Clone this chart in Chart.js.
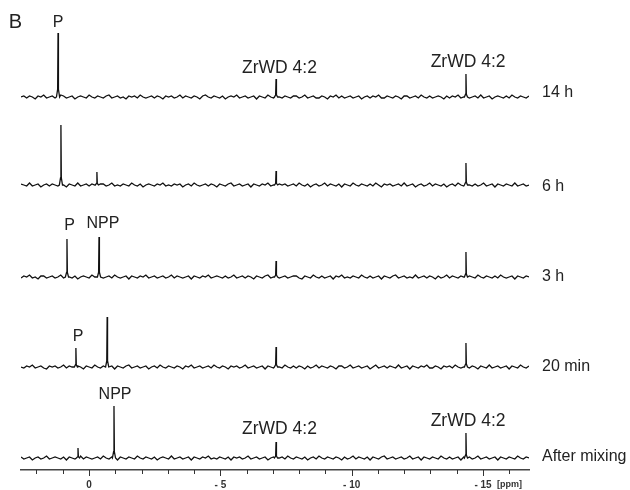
<!DOCTYPE html>
<html>
<head>
<meta charset="utf-8">
<script src="https://cdn.jsdelivr.net/npm/chart.js@4.4.0/dist/chart.umd.min.js"></script>
<style>
  html, body { margin: 0; padding: 0; background: #ffffff; }
  #wrap { width: 630px; height: 490px; }
</style>
</head>
<body>
<div id="wrap"><canvas id="c" width="630" height="490"></canvas></div>
<script>
// ---- Data (chemical shift in ppm, intensities in arbitrary units) ----
const traceNames = ['14 h', '6 h', '3 h', '20 min', 'After mixing'];
const traceOffsets = [373, 285, 193, 103, 12];
const ppmStart = 2.59;
const ppmEnd = -16.75;
const xTicksMajor = [0, -5, -10, -15];
const xTickLabels = ['0', '- 5', '- 10', '- 15'];

// peaks: [ppm, height]
const peaks14h = [[1.18, 64], [-7.12, 18], [-14.35, 23]];
const peaks6h = [[1.07, 60], [-0.30, 13], [-7.12, 14], [-14.35, 22]];
const peaks3h = [[0.84, 38], [-0.38, 40], [-7.12, 16], [-14.35, 25]];
const peaks20min = [[0.50, 19], [-0.69, 50], [-7.12, 20], [-14.35, 24]];
const peaksMix = [[0.42, 10], [-0.95, 52], [-7.12, 16], [-14.35, 25]];

// baseline noise, sampled evenly across the spectral window
const noise14h = [0,1,-1,1,0,-2,1,0,2,-1,0,1,-1,0,2,1,-1,0,1,-2,
0,1,0,-1,2,0,-1,1,0,-1,1,2,-1,0,1,-1,0,-2,1,0,
1,-1,2,0,-1,0,1,-1,1,0,-2,1,0,1,-1,0,2,-1,1,0,
-1,1,0,-2,1,2,0,-1,1,0,-1,1,-2,0,1,0,2,-1,0,1,
-1,0,1,-2,1,0,-1,2,0,-1,1,0,-1,1,0,-1,1,1,-1,0,
2,-1,0,1,-1,-1,1,0,-2,1,0,2,-1,1,-1,0,1,-1,0,1,
-2,0,1,-1,1,0,2,-1,-1,1,0,-1,1,0,-2,1,1,-1,0,1,
-1,2,0,-1,1,-1,0,1,0,-2,1,-1,1,0,2,-1,0,1,-1,0,
1,-1,2,-1,0,1,-2,0,1,0,-1,1,-1,2,0,-1,1,0,-1,1];
const noise6h = [1,0,-1,2,-1,0,1,-2,0,1,-1,1,0,-1,2,0,-2,1,0,-1,
2,-1,0,1,-1,1,0,-2,1,1,-1,0,2,-1,0,-1,1,0,-1,2,
0,-1,1,-2,0,1,0,-1,1,0,2,-1,0,-1,1,0,1,-2,0,1,
-1,2,0,-1,0,1,-1,1,0,-2,1,0,-1,1,2,-1,0,1,-1,0,
1,-2,1,0,-1,1,0,2,-1,0,-1,1,0,1,-1,0,1,-1,2,0,
-1,1,-2,0,1,-1,0,2,-1,1,0,-1,1,-2,1,0,-1,2,0,-1,
1,0,-1,1,-1,2,0,-2,1,0,1,-1,0,1,-1,2,-1,0,1,-2,
0,1,-1,0,2,-1,1,0,-1,1,-2,0,1,-1,2,0,-1,1,0,-1,
1,-1,0,2,-1,0,1,-2,1,0,-1,1,0,-1,2,-1,0,1,-1,0];
const noise3h = [-1,1,0,2,-1,0,-2,1,1,-1,0,1,-1,0,2,-1,1,0,-1,1,
-2,0,1,0,-1,2,0,-1,1,-1,0,1,-1,2,0,-1,0,1,-2,1,
0,-1,1,0,2,-1,0,1,-1,0,1,-1,0,2,-1,1,0,-1,0,1,
-2,1,0,-1,1,0,2,-1,0,1,0,-1,1,-1,0,2,-1,0,1,-1,
1,0,-2,1,0,-1,1,2,-1,0,1,-1,0,1,-1,0,1,1,-1,-2,
1,0,-1,2,0,-1,1,-1,0,1,-2,1,0,2,-1,0,-1,1,0,-1,
2,0,-1,1,-1,0,1,-2,1,0,-1,1,2,-1,0,1,-1,0,-1,2,
-1,0,1,-1,1,0,-2,1,-1,0,2,-1,1,0,-1,1,0,-2,1,0,
-1,2,0,-1,1,0,-1,1,-1,2,0,-1,0,1,-2,1,0,-1,1,0];
const noise20min = [0,-1,1,0,2,-1,0,1,-1,-2,1,0,1,-1,0,2,-1,1,0,-1,
1,0,-2,1,0,-1,2,0,-1,1,-1,0,1,-2,1,0,-1,1,2,-1,
0,1,-1,0,1,-2,0,1,-1,2,0,-1,1,0,-1,1,0,-2,1,0,
2,-1,0,1,-1,0,1,-1,2,0,-1,1,0,-2,1,0,1,-1,0,2,
-1,0,1,-1,0,1,-2,1,0,-1,1,0,-1,2,0,-1,1,-1,1,0,
-2,1,-1,0,2,-1,1,0,-1,1,0,-2,1,1,-1,0,2,-1,0,1,
-1,0,1,-2,0,2,-1,0,1,-1,1,0,-1,2,-1,0,1,-2,1,0,
-1,1,0,2,-1,-1,1,0,-2,1,0,1,-1,2,0,-1,0,1,-1,1,
0,-2,1,0,-1,2,-1,0,1,-1,0,1,-2,1,0,-1,2,0,-1,1];
const noiseMix = [1,-1,0,1,-2,0,1,-1,0,2,-1,0,1,0,-1,1,-2,1,0,-1,
0,2,-1,1,0,-1,0,1,-1,2,0,-1,1,0,-2,1,0,-1,1,0,
-1,2,0,-1,1,0,-1,1,-2,0,1,0,-1,2,-1,0,1,-1,0,1,
-2,1,0,-1,1,0,2,-1,0,-1,1,0,-1,1,-2,1,0,1,-1,0,
2,-1,0,1,-1,0,1,-2,0,1,-1,0,1,-1,2,0,-1,1,0,-1,
1,-2,0,1,-1,2,0,-1,1,0,-1,1,0,-2,1,-1,0,2,-1,1,
0,-1,1,-2,1,0,-1,1,2,-1,0,1,-1,0,1,-1,0,2,-1,0,
1,-2,1,0,-1,1,0,-1,2,0,-1,1,-1,0,1,-2,1,0,1,-1,
0,2,-1,0,1,-1,0,1,-2,1,0,-1,1,0,-1,2,0,-1,1,0];

// annotation text: [text, ppm, intensity-level]
const peakLabels = [
  ['P', 1.18, 447.5],
  ['ZrWD 4:2', -7.25, 402],
  ['ZrWD 4:2', -14.43, 408],
  ['P', 0.74, 244],
  ['NPP', -0.53, 246.5],
  ['P', 0.42, 133.5],
  ['NPP', -0.99, 75],
  ['ZrWD 4:2', -7.25, 40.5],
  ['ZrWD 4:2', -14.43, 48.5]
];
const traceLabelLevels = [377, 283.5, 193.5, 103.5, 13];
const panelLetter = ['B', 2.80, 448];

// ---- Build datasets ----
const allNoise = [noise14h, noise6h, noise3h, noise20min, noiseMix];
const allPeaks = [peaks14h, peaks6h, peaks3h, peaks20min, peaksMix];

function buildTrace(noise, pk, off) {
  const n = noise.length;
  const step = (ppmStart - ppmEnd) / (n - 1);
  const pts = [];
  for (let i = 0; i < n; i++) {
    const x = ppmStart - i * step;
    if (!pk.some(([c]) => Math.abs(x - c) < 0.07)) pts.push({ x, y: off + noise[i] });
  }
  pk.forEach(([c, h]) => {
    pts.push({ x: c + 0.06, y: off });
    pts.push({ x: c + 0.015, y: off + h * 0.12 });
    pts.push({ x: c, y: off + h });
    pts.push({ x: c - 0.015, y: off + h * 0.12 });
    pts.push({ x: c - 0.06, y: off });
  });
  pts.sort((a, b) => b.x - a.x);
  return pts;
}

const datasets = traceNames.map((name, i) => ({
  label: name,
  data: buildTrace(allNoise[i], allPeaks[i], traceOffsets[i]),
  borderColor: '#111111',
  borderWidth: 1.3,
  pointRadius: 0,
  tension: 0,
  fill: false
}));

const FONT = '"Liberation Sans", Arial, sans-serif';

const annotPlugin = {
  id: 'annot',
  afterDraw(chart) {
    const ctx = chart.ctx;
    const xs = chart.scales.x, ys = chart.scales.y;
    ctx.save();
    // tick marks
    ctx.strokeStyle = '#333';
    ctx.lineWidth = 1;
    xs.ticks.forEach(t => {
      const px = Math.round(xs.getPixelForValue(t.value)) + 0.5;
      const len = (t.value % 5 === 0) ? 6 : 4;
      ctx.beginPath();
      ctx.moveTo(px, xs.top);
      ctx.lineTo(px, xs.top + len);
      ctx.stroke();
    });
    // unit label
    ctx.fillStyle = '#333';
    ctx.font = 'bold 9px ' + FONT;
    ctx.textAlign = 'left';
    ctx.textBaseline = 'middle';
    ctx.fillText('[ppm]', xs.getPixelForValue(-15) + 14, xs.top + 15);

    ctx.fillStyle = '#222';
    peakLabels.forEach(([txt, ppm, lvl]) => {
      ctx.font = (txt.startsWith('ZrWD') ? '17.5px ' : '16px ') + FONT;
      ctx.textAlign = 'center';
      ctx.fillText(txt, xs.getPixelForValue(ppm), ys.getPixelForValue(lvl));
    });
    ctx.font = '16px ' + FONT;
    ctx.textAlign = 'left';
    traceNames.forEach((name, i) => {
      ctx.fillText(name, chart.chartArea.right + 13, ys.getPixelForValue(traceLabelLevels[i]));
    });
    ctx.font = '20px ' + FONT;
    ctx.textAlign = 'center';
    ctx.fillText(panelLetter[0], xs.getPixelForValue(panelLetter[1]), ys.getPixelForValue(panelLetter[2]));
    ctx.restore();
  }
};

new Chart(document.getElementById('c'), {
  type: 'line',
  data: { datasets },
  options: {
    responsive: false,
    animation: false,
    events: [],
    layout: { padding: { top: 10, left: 21, right: 101, bottom: 0 } },
    plugins: { legend: { display: false }, tooltip: { enabled: false } },
    scales: {
      x: {
        type: 'linear',
        reverse: true,
        min: ppmEnd,
        max: ppmStart,
        afterFit(s) { s.height = 20; },
        grid: { display: false, drawTicks: false },
        border: { display: true, color: '#444', width: 1.5 },
        ticks: {
          stepSize: 1,
          includeBounds: false,
          autoSkip: false,
          maxRotation: 0,
          padding: 9,
          color: '#333',
          font: { family: FONT, size: 10, weight: 'bold' },
          callback(v) {
            const k = xTicksMajor.indexOf(v);
            return k >= 0 ? xTickLabels[k] : '';
          }
        }
      },
      y: { display: false, min: 0, max: 460 }
    }
  },
  plugins: [annotPlugin]
});
</script>
</body>
</html>
